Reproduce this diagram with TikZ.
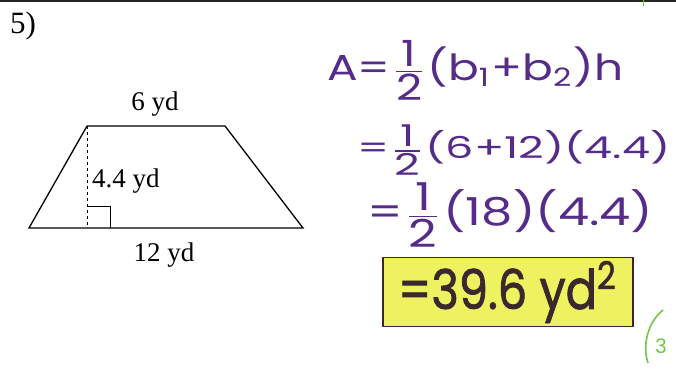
\documentclass[tikz,border=0pt]{standalone}
\usepackage{fontspec}
\usepackage{graphicx}
\setmainfont{Liberation Serif}
\newfontfamily\handfont{Poppins}
\newfontfamily\handbold[FakeBold=1.6]{Poppins}
\definecolor{inkpurple}{RGB}{86,44,138}
\definecolor{inkdark}{RGB}{58,40,44}
\definecolor{hiyellow}{RGB}{238,241,96}
\definecolor{inkgreen}{RGB}{112,198,72}
\newcommand{\half}{\ensuremath{\frac{\mbox{1}}{\mbox{2}}}}
\tikzset{
  printed/.style={font=\fontsize{27}{31}\selectfont},
  handwritten/.style={text=inkpurple,anchor=west,inner sep=0pt,font=\handfont},
  answerbox/.style={draw=inkdark,fill=hiyellow,line width=1.6pt,minimum width=250pt,minimum height=69pt,inner sep=0pt,text=inkdark,font=\handbold},
}
\begin{document}
\begin{tikzpicture}[x=1pt,y=-1pt]
  \useasboundingbox (0,0) rectangle (676,369);
  \draw[line width=2.5pt,black!85] (0,1) -- (676,1);
  \draw[inkgreen,line width=1pt] (643,0) -- (643,6);
  \node[font=\fontsize{31}{35}\selectfont] (num) at (23,26) {5)};
  % the trapezoid
  \coordinate (bl) at (29,228);
  \coordinate (tl) at (87,126);
  \coordinate (tr) at (225,126);
  \coordinate (br) at (303,228);
  \coordinate (foot) at (87,228);
  \draw[line width=1.3pt] (bl) -- (tl) -- (tr) -- (br) -- cycle;
  \draw[dashed,line width=0.9pt] (tl) -- (foot);
  \draw[line width=0.9pt] (87,206) -| (110,228);
  \node[printed] (top) at (155,104) {6 yd};
  \node[printed,anchor=west,inner sep=0pt] (height) at (92,181) {4.4 yd};
  \node[printed] (bottom) at (164,255) {12 yd};
  % the working
  \node[handwritten] (line1) at (327,70) {\resizebox*{296pt}{60pt}{A=\half(b\textsubscript{1}+b\textsubscript{2})h}};
  \node[handwritten] (line2) at (357,150) {\resizebox*{313pt}{50pt}{=\half(6+12)(4.4)}};
  \node[handwritten] (line3) at (367,215) {\resizebox*{286pt}{64pt}{=\half(18)(4.4)}};
  \node[answerbox] (answer) at (508,292) {\resizebox*{220pt}{62pt}{=39.6 yd\textsuperscript{2}}};
  \draw[inkgreen,line width=1.6pt] (663,310) .. controls (648,322) and (642,345) .. (648,363);
  \node[text=inkgreen,font=\handfont\fontsize{20}{22}\selectfont] (score) at (661,346) {3};
\end{tikzpicture}
\end{document}
